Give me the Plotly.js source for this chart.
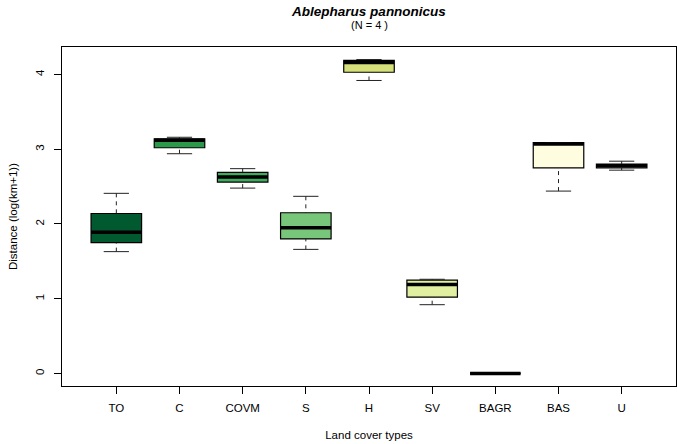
<!DOCTYPE html>
<html>
<head>
<meta charset="utf-8">
<script src="https://cdn.plot.ly/plotly-3.0.1.min.js"></script>
<style>
html,body{margin:0;padding:0;background:#fff;}
#chart{width:677px;height:444px;}
</style>
</head>
<body>
<div id="chart"></div>
<script>
// ---- data ----
const categories = ['TO', 'C', 'COVM', 'S', 'H', 'SV', 'BAGR', 'BAS', 'U'];
const minVals = [1.63, 2.94, 2.48, 1.66, 3.92, 0.92, 0, 2.44, 2.72];
const q1Vals  = [1.75, 3.02, 2.56, 1.80, 4.03, 1.02, 0, 2.75, 2.75];
const medVals = [1.89, 3.12, 2.63, 1.95, 4.16, 1.19, 0, 3.07, 2.78];
const q3Vals  = [2.14, 3.14, 2.69, 2.15, 4.19, 1.25, 0, 3.09, 2.80];
const maxVals = [2.41, 3.16, 2.74, 2.37, 4.20, 1.26, 0, 3.09, 2.84];
const boxColors = ['#00592f', '#2a9a4a', '#41ab5d', '#78c679', '#d6e07a',
                   '#e1f0a0', '#f0f8c0', '#fffde0', '#fffde8'];
const yTicks = [0, 1, 2, 3, 4];

const FONT = 'Liberation Sans, Arial, Helvetica, sans-serif';
const BOXW = 0.8;
const xPos = categories.map((c, i) => i + 1);

const traces = [];

// dashed whiskers
const wx = [], wy = [];
xPos.forEach((x, i) => {
  wx.push(x, x, null, x, x, null);
  wy.push(minVals[i], q1Vals[i], null, maxVals[i], q3Vals[i], null);
});
traces.push({type: 'scatter', mode: 'lines', x: wx, y: wy, hoverinfo: 'skip',
  line: {color: '#222', width: 1, dash: '4px,4px'}, showlegend: false});

// staples
const sx = [], sy = [];
xPos.forEach((x, i) => {
  [minVals[i], maxVals[i]].forEach(v => {
    sx.push(x - BOXW / 4, x + BOXW / 4, null);
    sy.push(v, v, null);
  });
});
traces.push({type: 'scatter', mode: 'lines', x: sx, y: sy, hoverinfo: 'skip',
  line: {color: '#222', width: 1}, showlegend: false});

// boxes
categories.forEach((c, i) => {
  traces.push({
    type: 'box', name: c, x: [xPos[i]],
    q1: [q1Vals[i]], median: [medVals[i]], q3: [q3Vals[i]],
    lowerfence: [q1Vals[i]], upperfence: [q3Vals[i]],
    width: BOXW, whiskerwidth: 0,
    fillcolor: boxColors[i], line: {color: '#000', width: 1.2},
    boxpoints: false, showlegend: false, hoverinfo: 'skip'
  });
});

// thick medians
const mx = [], my = [];
xPos.forEach((x, i) => {
  mx.push(x - BOXW / 2, x + BOXW / 2, null);
  my.push(medVals[i], medVals[i], null);
});
traces.push({type: 'scatter', mode: 'lines', x: mx, y: my, hoverinfo: 'skip',
  line: {color: '#000', width: 3.5}, showlegend: false});

const layout = {
  width: 677, height: 444,
  margin: {l: 62, r: 1, t: 47, b: 58, pad: 0},
  paper_bgcolor: '#fff', plot_bgcolor: '#fff',
  boxmode: 'overlay',
  font: {family: FONT, size: 11.5, color: '#000'},
  title: {
    text: '<b><i>Ablepharus pannonicus</i></b>',
    font: {family: FONT, size: 13.5, color: '#000'},
    x: 0.5, xref: 'paper', xanchor: 'center',
    y: 1 - 11 / 444, yref: 'container', yanchor: 'middle'
  },
  annotations: [{
    text: '(N = 4 )', xref: 'paper', yref: 'paper', x: 0.5, y: 1,
    xanchor: 'center', yanchor: 'middle', yshift: 22.5, showarrow: false,
    font: {family: FONT, size: 11, color: '#000'}
  }],
  xaxis: {
    range: [0.14, 9.86], tickmode: 'array', tickvals: xPos, ticktext: categories,
    ticks: 'outside', ticklen: 7, tickcolor: '#000', tickwidth: 1,
    ticklabelstandoff: 4,
    showline: true, mirror: true, linecolor: '#000', linewidth: 1,
    showgrid: false, zeroline: false, fixedrange: true,
    tickfont: {family: FONT, size: 11.5, color: '#000'},
    title: {text: 'Land cover types', font: {family: FONT, size: 11.5, color: '#000'}, standoff: 18}
  },
  yaxis: {
    range: [-0.168, 4.368], tickmode: 'array', tickvals: yTicks,
    ticktext: yTicks.map(String), tickangle: -90,
    ticks: 'outside', ticklen: 7, tickcolor: '#000', tickwidth: 1,
    ticklabelstandoff: 5,
    showline: true, mirror: true, linecolor: '#000', linewidth: 1,
    showgrid: false, zeroline: false, fixedrange: true,
    tickfont: {family: FONT, size: 11.5, color: '#000'},
    title: {text: 'Distance (log(km+1))', font: {family: FONT, size: 11.5, color: '#000'}, standoff: 14}
  }
};

Plotly.newPlot('chart', traces, layout, {displayModeBar: false, staticPlot: true});
</script>
</body>
</html>
